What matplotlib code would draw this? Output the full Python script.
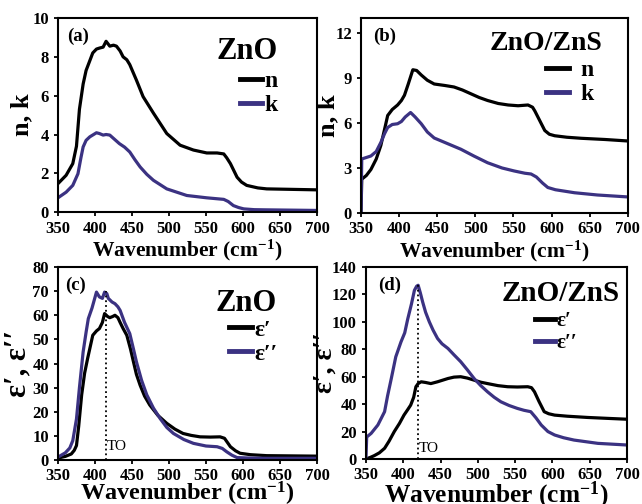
import matplotlib
matplotlib.use("Agg")
import matplotlib.pyplot as plt

plt.rcParams['font.family'] = ['Liberation Serif', 'DejaVu Serif']
plt.rcParams['font.weight'] = 'bold'
plt.rcParams['mathtext.fontset'] = 'custom'
plt.rcParams['mathtext.rm'] = 'Liberation Serif:bold'
plt.rcParams['mathtext.default'] = 'rm'

BLACK = '#000000'
PURPLE = '#3b3282'

# (a) ZnO n, k
a_x_n = [350, 361, 370, 375, 379, 384, 388, 393, 397, 402, 406, 411, 415, 418, 420, 425, 429, 434, 438, 443,
         447, 456, 465, 479, 497, 515, 533, 551, 565, 574, 578, 583, 592, 598, 605, 620, 632, 700]
a_n = [1.47, 1.9, 2.5, 3.4, 5.3, 6.6, 7.3, 7.8, 8.2, 8.4, 8.45, 8.5, 8.8, 8.65, 8.55, 8.6, 8.55, 8.3, 8.0, 7.85,
       7.6, 6.8, 5.95, 5.1, 4.05, 3.45, 3.2, 3.05, 3.05, 3.0, 2.8, 2.5, 1.8, 1.55, 1.38, 1.25, 1.2, 1.15]
a_x_k = [350, 361, 370, 377, 381, 384, 388, 393, 402, 406, 411, 415, 420, 425, 433, 440, 447, 454, 461, 470,
         479, 497, 524, 551, 574, 580, 587, 594, 601, 615, 632, 700]
a_k = [0.74, 1.03, 1.38, 1.98, 2.8, 3.36, 3.7, 3.88, 4.09, 4.05, 3.97, 4.0, 3.97, 3.8, 3.53, 3.35, 3.1, 2.7,
       2.33, 1.95, 1.64, 1.2, 0.86, 0.74, 0.66, 0.55, 0.34, 0.24, 0.17, 0.13, 0.12, 0.09]

# (b) ZnO/ZnS n, k
b_x_n = [350, 351, 357, 363, 370, 376, 381, 385, 391, 398, 403, 407, 412, 418, 423, 429, 437, 446, 460, 472,
         483, 494, 505, 516, 530, 543, 556, 569, 575, 578, 584, 591, 597, 604, 620, 639, 670, 700]
b_n = [0.0, 2.25, 2.5, 2.9, 3.6, 4.5, 5.6, 6.5, 6.9, 7.2, 7.5, 7.85, 8.6, 9.55, 9.5, 9.2, 8.85, 8.6, 8.5, 8.4,
       8.2, 7.95, 7.7, 7.5, 7.3, 7.2, 7.15, 7.2, 7.05, 6.8, 6.2, 5.5, 5.25, 5.15, 5.05, 4.98, 4.9, 4.8]
b_x_k = [350, 351, 357, 363, 370, 376, 381, 385, 391, 398, 403, 408, 415, 421, 429, 437, 446, 460, 481, 498,
         516, 535, 551, 565, 573, 580, 588, 595, 605, 630, 660, 700]
b_k = [0.0, 3.6, 3.7, 3.8, 4.1, 4.7, 5.3, 5.7, 5.9, 5.95, 6.1, 6.4, 6.7, 6.4, 5.95, 5.4, 5.0, 4.7, 4.25, 3.8,
       3.35, 3.0, 2.8, 2.65, 2.6, 2.4, 2.0, 1.7, 1.55, 1.35, 1.2, 1.07]

# (c) ZnO eps', eps''
c_x_e1 = [350, 360, 368, 372, 375, 378, 382, 386, 390, 397, 402, 406, 410, 413, 417, 420, 424, 427, 431, 434,
          438, 443, 448, 452, 456, 461, 467, 474, 485, 497, 508, 519, 530, 542, 556, 569, 575, 583, 590, 596,
          610, 632, 700]
c_e1 = [0.8, 1.5, 2.5, 4.0, 6.0, 14, 27, 36, 42, 51.7, 53.5, 54.5, 57, 60.7, 59.5, 59, 59.5, 60, 59, 57,
        54.5, 51.7, 46, 40.7, 35.5, 31, 26.5, 22.8, 18.5, 15.2, 12.8, 11, 10.2, 9.6, 9.5, 9.6, 9.0, 5.5,
        3.8, 2.8, 2.2, 1.8, 1.6]
c_x_e2 = [350, 360, 366, 370, 375, 379, 384, 388, 391, 396, 402, 406, 410, 413, 416, 418, 423, 427, 431, 434,
          440, 447, 452, 456, 463, 470, 479, 488, 497, 506, 520, 533, 550, 565, 572, 578, 585, 592, 610, 632, 700]
c_e2 = [1.2, 3.0, 5.0, 8.0, 17, 30, 44.8, 53, 58.6, 63, 69.6, 67.6, 67, 69.6, 69, 67, 65.5, 64.8, 63.5, 62,
        57, 52.4, 46, 40.7, 33, 27, 21.5, 17.2, 13.5, 11, 8.5, 6.9, 5.8, 5.5, 4.8, 3.4, 2.0, 1.0, 0.8, 0.7,
        0.7]
c_to = 414.6

# (d) ZnO/ZnS eps', eps''
d_x_e1 = [350, 356, 361, 368, 375, 381, 388, 395, 401, 406, 410, 414, 417, 420, 424, 430, 437, 446, 453, 460,
          468, 477, 486, 495, 504, 513, 527, 540, 553, 567, 572, 576, 582, 589, 595, 603, 620, 647, 675, 700]
d_e1 = [0.0, 1.2, 2.4, 4.5, 7.8, 13, 20, 26, 32, 36, 39.3, 45, 52.7, 55, 56.3, 55.8, 55, 56.3, 57.5, 58.7,
        59.7, 60, 59, 57.5, 56, 55, 53.5, 52.7, 52.5, 52.7, 52, 49, 42, 34.5, 33, 32, 31.2, 30.3, 29.6, 29]
d_x_e2 = [350, 351, 357, 366, 375, 379, 384, 390, 397, 402, 406, 411, 415, 418, 420, 423, 426, 430, 435, 440,
          446, 452, 460, 468, 477, 486, 495, 504, 513, 522, 531, 542, 553, 562, 571, 578, 585, 594, 603, 615,
          629, 661, 700]
d_e2 = [0.0, 16, 18.7, 24.8, 34.5, 46, 58.7, 74.5, 85.4, 92, 102, 113, 123, 126, 126.7, 121, 114.6, 107, 100,
        94, 87.9, 84, 80.6, 76, 71, 65, 58.7, 53.5, 49, 45, 41.7, 39, 36.9, 35.5, 34.5, 30, 24.8, 20, 17.5,
        15.5, 13.8, 11.4, 10.2]
d_to = 419.3

fig = plt.figure(figsize=(6.42, 5.04), dpi=100)
ax_a = fig.add_axes([0.0903, 0.579, 0.4035, 0.3853])
ax_b = fig.add_axes([0.5623, 0.5774, 0.4157, 0.3869])
ax_c = fig.add_axes([0.0903, 0.0873, 0.4035, 0.3829])
ax_d = fig.add_axes([0.570, 0.0893, 0.4066, 0.3809])

xlab = 'Wavenumber (cm$^{-1}$)'
eps1 = '\u03b5\u2032'
eps2 = '\u03b5\u2032\u2032'


def style(ax, yticks, ylim, ylabel, ysize, ypad, xsize, xpad, tag, tag_x):
    ax.set_xlim(350, 700)
    ax.set_ylim(*ylim)
    ax.set_xticks(range(350, 701, 50))
    ax.set_yticks(yticks)
    ax.tick_params(direction='out', length=3, width=1.3, labelsize=12)
    ax.tick_params(axis='x', pad=3)
    ax.tick_params(axis='y', pad=3.5)
    for s in ax.spines.values():
        s.set_linewidth(1.5)
    ax.set_xlabel(xlab, fontsize=xsize, fontweight='bold', labelpad=xpad)
    ax.set_ylabel(ylabel, fontsize=ysize, fontweight='bold', labelpad=ypad)
    ax.text(tag_x, 0.95, tag, transform=ax.transAxes, va='top', ha='left', fontsize=13.5, fontweight='bold')


def key(ax, title, tsize, tx, ty, lx, ly, lsize, gap):
    ax.text(tx, ty, title, transform=ax.transAxes, ha='right', va='center', fontsize=tsize, fontweight='bold')
    leg = ax.legend(loc='upper right', bbox_to_anchor=(lx, ly), frameon=False,
                    handlelength=0.95, handletextpad=gap, labelspacing=0.1, borderpad=0.0,
                    borderaxespad=0.0, prop={'size': lsize, 'weight': 'bold'})
    for h in leg.get_lines():
        h.set_linewidth(3.5)


ax_a.plot(a_x_n, a_n, color=BLACK, lw=2.3, label='n')
ax_a.plot(a_x_k, a_k, color=PURPLE, lw=2.3, label='k')
style(ax_a, range(0, 11, 2), (0, 10), 'n, k', 19, -1, 15.5, 1, '(a)', 0.035)
key(ax_a, 'ZnO', 22, 0.849, 0.83, 0.849, 0.73, 17, 0.1)

ax_b.plot(b_x_n, b_n, color=BLACK, lw=2.3, label='n')
ax_b.plot(b_x_k, b_k, color=PURPLE, lw=2.3, label='k')
style(ax_b, range(0, 13, 3), (0, 13), 'n, k', 19, -3, 15.5, 1, '(b)', 0.045)
key(ax_b, 'ZnO/ZnS', 20, 0.906, 0.867, 0.872, 0.785, 17, 0.5)

ax_c.plot(c_x_e1, c_e1, color=BLACK, lw=2.3, label=eps1)
ax_c.plot(c_x_e2, c_e2, color=PURPLE, lw=2.3, label=eps2)
ax_c.plot([c_to, c_to], [0, 70], color=BLACK, lw=1.3, ls=':')
ax_c.text(c_to + 1.5, 3, 'TO', fontsize=11, fontweight='normal', va='bottom')
style(ax_c, range(0, 81, 10), (0, 80), eps1 + ', ' + eps2, 22, 0, 17.5, -3, '(c)', 0.027)
key(ax_c, 'ZnO', 22, 0.846, 0.813, 0.846, 0.73, 17, 0.1)

ax_d.plot(d_x_e1, d_e1, color=BLACK, lw=2.3, label=eps1)
ax_d.plot(d_x_e2, d_e2, color=PURPLE, lw=2.3, label=eps2)
ax_d.plot([d_to, d_to], [0, 127], color=BLACK, lw=1.3, ls=':')
ax_d.text(d_to + 1.5, 3, 'TO', fontsize=11, fontweight='normal', va='bottom')
style(ax_d, range(0, 141, 20), (0, 140), eps1 + ', ' + eps2, 20, -4, 18.3, -3, '(d)', 0.046)
key(ax_d, 'ZnO/ZnS', 21, 0.973, 0.86, 0.81, 0.77, 15, 0.1)

fig.savefig('out.png', dpi=100)
